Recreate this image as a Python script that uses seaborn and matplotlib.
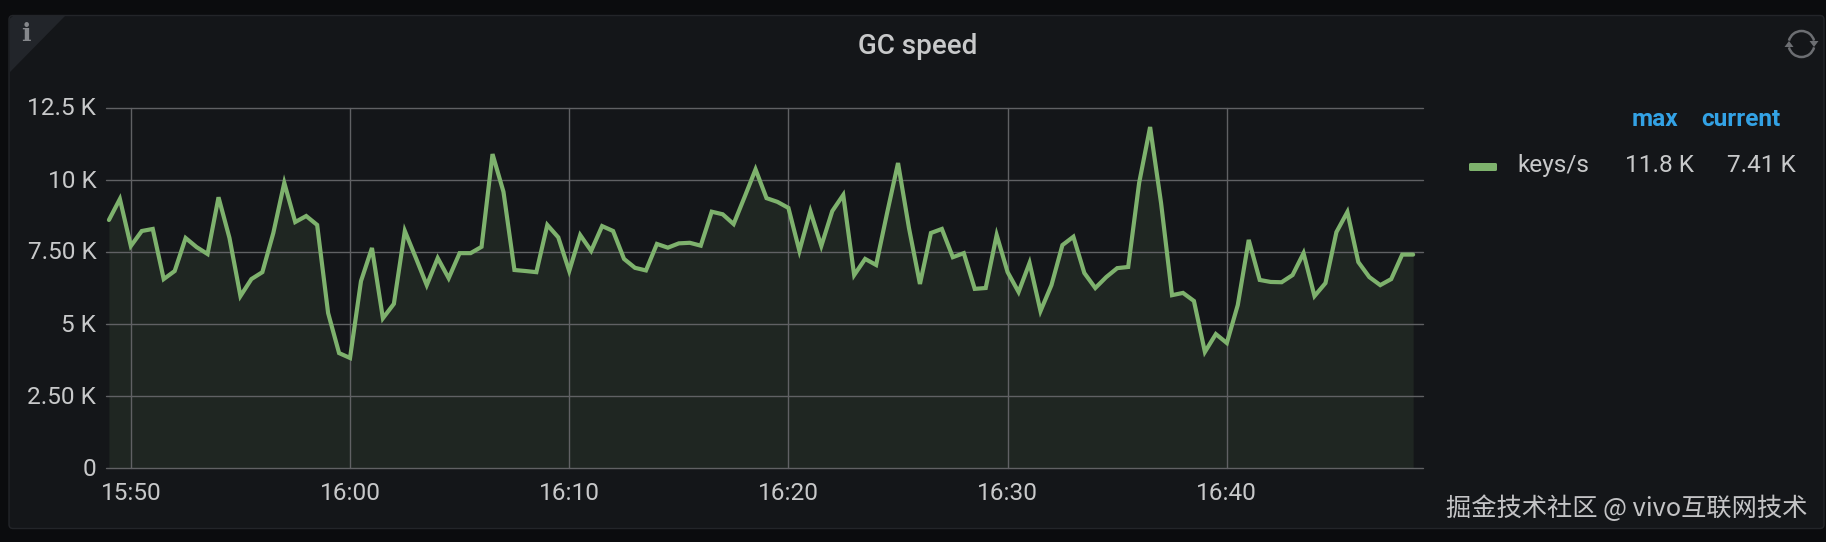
import matplotlib
matplotlib.use("Agg")
import matplotlib.pyplot as plt
import matplotlib.dates as mdates
from matplotlib.patches import FancyBboxPatch, Polygon, Arc
from matplotlib.transforms import ScaledTranslation
import pandas as pd
import seaborn as sns

# ---------- data ----------
values = [
    8611, 9340, 7708, 8229, 8300, 6560, 6840, 7986, 7670, 7430,
    9400, 7986, 5970, 6560, 6800, 8160, 9900, 8540, 8750, 8440,
    5380, 3990, 3820, 6490, 7640, 5200, 5700, 8230, 7300, 6350,
    7290, 6590, 7460, 7460, 7680, 10900, 9590, 6875, 6840, 6800,
    8440, 8010, 6840, 8090, 7540, 8400, 8230, 7260, 6950, 6860,
    7780, 7650, 7800, 7820, 7720, 8900, 8810, 8470, 9410, 10370,
    9370, 9240, 9030, 7540, 8920, 7710, 8920, 9480, 6700, 7260,
    7050, 8850, 10590, 8330, 6390, 8160, 8300, 7320, 7460, 6220,
    6250, 8090, 6800, 6110, 7120, 5450, 6350, 7740, 8030, 6770,
    6250, 6630, 6940, 6980, 9900, 11840, 9200, 6000, 6080, 5800,
    4030, 4650, 4340, 5660, 7920, 6530, 6460, 6450, 6700, 7460,
    5970, 6420, 8190, 8890, 7150, 6630, 6350, 6560, 7410, 7410,
]
times = pd.date_range("2021-01-01 15:49:00", periods=len(values), freq="30s")
y_ticks = [0, 2500, 5000, 7500, 10000, 12500]
y_labels = ["0", "2.50 K", "5 K", "7.50 K", "10 K", "12.5 K"]
x_ticks = pd.to_datetime(["2021-01-01 15:50", "2021-01-01 16:00", "2021-01-01 16:10",
                          "2021-01-01 16:20", "2021-01-01 16:30", "2021-01-01 16:40"])
x_start = pd.Timestamp("2021-01-01 15:48:52")
x_end = pd.Timestamp("2021-01-01 16:48:57")
title = "GC speed"
series_name = "keys/s"
legend_headers = ["max", "current"]
legend_values = ["11.8 K", "7.41 K"]
watermark = "掘金技术社区 @ vivo互联网技术"

# ---------- style ----------
W, H = 1826, 542
PAGE, PANEL, BORDER, CORNER = "#0b0c0e", "#141619", "#232529", "#22252a"
GREEN, FILL, GRID, TEXT, BLUE = "#7eb26d", "#1f2622", "#606164", "#c8c9ca", "#33a2e5"
FS = 17.6

sns.set_theme(style="dark")
plt.rcParams["font.family"] = ["Roboto", "DejaVu Sans"]

fig = plt.figure(figsize=(W / 100, H / 100), dpi=100, facecolor=PAGE)

# pixel-space layer for the panel chrome and texts
chrome = fig.add_axes([0, 0, 1, 1], zorder=0)
chrome.set_xlim(0, W)
chrome.set_ylim(H, 0)
chrome.axis("off")
chrome.add_patch(FancyBboxPatch((9, 15.5), 1815, 513, boxstyle="round,pad=0,rounding_size=4",
                                fc=PANEL, ec=BORDER, lw=1))
chrome.add_patch(Polygon([[9.5, 19], [13, 16], [65, 16], [10, 72]], closed=True, fc=CORNER, ec="none"))
chrome.text(26, 34, "i", fontsize=18, fontweight="bold", family="DejaVu Serif",
            color="#85878b", ha="center", va="center")

# refresh icon
cx, cy, r = 1801.5, 44, 13
chrome.add_patch(Arc((cx, cy), 2 * r, 2 * r, theta1=195, theta2=345, color="#6c6e72", lw=1.8))
chrome.add_patch(Arc((cx, cy), 2 * r, 2 * r, theta1=15, theta2=165, color="#6c6e72", lw=1.8))
chrome.add_patch(Polygon([[cx + 8, cy - 3], [cx + 17, cy - 3], [cx + 12.5, cy + 3]], fc="#6c6e72", ec="none"))
chrome.add_patch(Polygon([[cx - 17, cy + 3], [cx - 8, cy + 3], [cx - 12.5, cy - 3]], fc="#6c6e72", ec="none"))

chrome.text(918, 46.5, title, fontsize=20, fontweight="medium", color=TEXT, ha="center", va="center")

# legend
chrome.add_patch(FancyBboxPatch((1469, 163), 28, 8, boxstyle="round,pad=0,rounding_size=1.5", fc=GREEN, ec="none"))
chrome.text(1517, 165.5, series_name, fontsize=FS, color=TEXT, ha="left", va="center")
chrome.text(1678, 119.5, legend_headers[0], fontsize=FS, fontweight="bold", color=BLUE, ha="right", va="center")
chrome.text(1780, 119.5, legend_headers[1], fontsize=FS, fontweight="bold", color=BLUE, ha="right", va="center")
chrome.text(1694, 165.5, legend_values[0], fontsize=FS, color=TEXT, ha="right", va="center")
chrome.text(1796, 165.5, legend_values[1], fontsize=FS, color=TEXT, ha="right", va="center")

chrome.text(1807, 509, watermark, fontsize=18.2, color="#c4c4c6", ha="right", va="center",
            family=["Noto Sans CJK SC", "DejaVu Sans"])

# ---------- chart ----------
L, R, T, B = 106, 1423, 108, 468
ax = fig.add_axes([L / W, 1 - B / H, (R - L) / W, (B - T) / H], zorder=1)
ax.patch.set_alpha(0)

df = pd.DataFrame({"time": times, "value": values})
ax.fill_between(df["time"], df["value"], 0, color=FILL, lw=0, zorder=1)
ax.grid(True, color=GRID, lw=1.0, zorder=2)
ax.set_axisbelow(False)
sns.lineplot(data=df, x="time", y="value", ax=ax, color=GREEN, lw=3.0, zorder=3,
             errorbar=None, solid_joinstyle="miter")

ax.set_xlim(x_start, x_end)
ax.set_ylim(0, 12500)
ax.set_yticks(y_ticks, y_labels)
ax.set_xticks(x_ticks)
ax.xaxis.set_major_formatter(mdates.DateFormatter("%H:%M"))
ax.set_xlabel("")
ax.set_ylabel("")
ax.tick_params(axis="both", length=0, labelsize=FS, colors=TEXT)
ax.tick_params(axis="x", pad=10)
ax.tick_params(axis="y", pad=7)
shift_up = ScaledTranslation(0, 1.5 / 100, fig.dpi_scale_trans)
for lab in ax.get_yticklabels():
    lab.set_verticalalignment("center_baseline")
    lab.set_transform(lab.get_transform() + shift_up)
for line in ax.get_xgridlines() + ax.get_ygridlines():
    line.set_clip_on(False)
    line.set_zorder(2)
for s in ax.spines.values():
    s.set_visible(False)

fig.savefig("out.png", dpi=100, facecolor=PAGE)
